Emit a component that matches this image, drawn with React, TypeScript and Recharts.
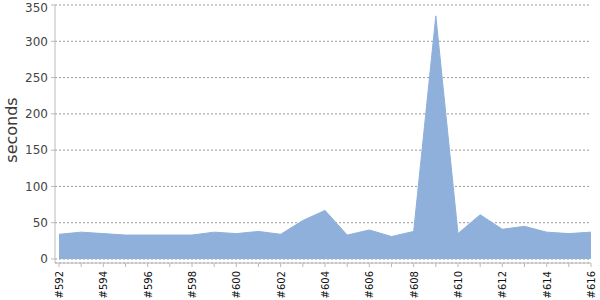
import { AreaChart, Area, XAxis, YAxis, CartesianGrid } from "recharts";

const builds = [
  "#592", "#593", "#594", "#595", "#596", "#597", "#598", "#599", "#600",
  "#601", "#602", "#603", "#604", "#605", "#606", "#607", "#608", "#609",
  "#610", "#611", "#612", "#613", "#614", "#615", "#616",
];

const seconds = [
  34, 37, 35, 33, 33, 33, 33, 37, 35, 38, 34, 53, 67, 33, 40, 31, 38, 335,
  35, 61, 41, 45, 37, 35, 37,
];

const yTicks = [0, 50, 100, 150, 200, 250, 300, 350];

const data = builds.map((build, i) => ({ build, seconds: seconds[i] }));

// only every second build gets a label, but every build gets a tick mark
function BuildTick(props: any) {
  const { x, y, payload, index } = props;
  if (index % 2 !== 0) return null;
  return (
    <text
      x={x + 4}
      y={y}
      transform={`rotate(-90, ${x + 4}, ${y})`}
      textAnchor="end"
      fontSize={10}
      fill="#111"
    >
      {payload.value}
    </text>
  );
}

function SecondsLabel(props: any) {
  const { viewBox } = props;
  const cx = viewBox.x + 17;
  const cy = viewBox.y + viewBox.height / 2 - 4;
  return (
    <text
      x={cx}
      y={cy}
      transform={`rotate(-90, ${cx}, ${cy})`}
      textAnchor="middle"
      fontSize={16}
      fill="#3a3a3a"
    >
      seconds
    </text>
  );
}

export default function App() {
  return (
    <div
      style={{
        position: "absolute",
        left: 0,
        top: 0,
        width: 600,
        height: 300,
        background: "#fff",
        fontFamily: "DejaVu Sans",
      }}
    >
      <AreaChart
        width={600}
        height={300}
        data={data}
        margin={{ top: 5, right: 9, bottom: 0, left: 0 }}
      >
        <CartesianGrid
          vertical={false}
          stroke="#999"
          strokeDasharray="2 2"
        />
        <XAxis
          dataKey="build"
          interval={0}
          height={37}
          padding={{ left: 4, right: 0 }}
          tick={<BuildTick />}
          tickSize={4}
          tickMargin={4}
          stroke="#bbb"
        />
        <YAxis
          width={55}
          domain={[0, 350]}
          ticks={yTicks}
          padding={{ top: 0, bottom: 4 }}
          tickSize={4}
          tickMargin={3}
          stroke="#bbb"
          tick={{ fill: "#444", fontSize: 12 }}
          label={<SecondsLabel />}
        />
        <Area
          type="linear"
          dataKey="seconds"
          fill="#8EB0DA"
          fillOpacity={1}
          stroke="#8EB0DA"
          strokeWidth={1}
          isAnimationActive={false}
        />
      </AreaChart>
    </div>
  );
}
